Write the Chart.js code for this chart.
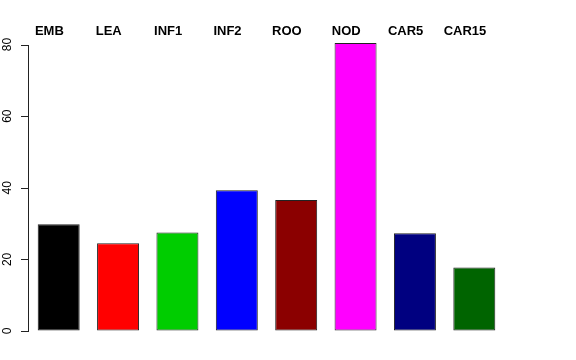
<!DOCTYPE html>
<html>
<head>
<meta charset="utf-8">
<script src="https://cdn.jsdelivr.net/npm/chart.js@4/dist/chart.umd.min.js"></script>
<style>
html,body{margin:0;padding:0;background:#fff;}
canvas{display:block;}
</style>
</head>
<body>
<canvas id="c" width="576" height="360"></canvas>
<script>
const categories = ["EMB", "LEA", "INF1", "INF2", "ROO", "NOD", "CAR5", "CAR15"];
const values = [29.8, 24.5, 27.5, 39.3, 36.6, 80.4, 27.3, 17.7];
const barColors = ["#000000", "#FF0000", "#00CD00", "#0000FF", "#8B0000", "#FF00FF", "#000080", "#006400"];
const yTicks = [0, 20, 40, 60, 80];

const topLabels = {
  id: 'topLabels',
  afterDraw(chart) {
    const ctx = chart.ctx;
    const xs = chart.scales.x;
    ctx.save();
    ctx.font = 'bold 13px "Liberation Sans", Arial, sans-serif';
    ctx.fillStyle = '#000';
    ctx.textAlign = 'center';
    ctx.textBaseline = 'alphabetic';
    categories.forEach((c, i) => {
      ctx.fillText(c, xs.getPixelForValue(i) - 9.3, 34.5);
    });
    ctx.restore();
    // axis line and tick marks
    const ys = chart.scales.y;
    const y0 = Math.round(ys.getPixelForValue(yTicks[0]));
    const y1 = Math.round(ys.getPixelForValue(yTicks[yTicks.length - 1]));
    ctx.save();
    ctx.fillStyle = '#222';
    ctx.fillRect(28, y1, 1, y0 - y1 + 1);
    for (let k = 0; k < yTicks.length; k++) {
      const y = Math.round(ys.getPixelForValue(yTicks[k]));
      ctx.fillRect(21, y, 8, 1);
    }
    ctx.restore();
  }
};

new Chart(document.getElementById('c'), {
  type: 'bar',
  data: {
    labels: categories,
    datasets: [{
      data: values,
      backgroundColor: barColors,
      borderColor: '#222',
      borderWidth: 1,
      borderSkipped: false,
      categoryPercentage: 1.0,
      barPercentage: 0.707,
      clip: false
    }]
  },
  options: {
    responsive: false,
    animation: false,
    devicePixelRatio: 1,
    layout: { padding: { left: 0, right: 72, top: 44.5, bottom: 29 } },
    plugins: { legend: { display: false }, tooltip: { enabled: false } },
    scales: {
      x: { display: false },
      y: {
        min: 0, max: 80,
        afterFit(scale) { scale.width = 29; },
        afterBuildTicks(scale) { scale.ticks = yTicks.map(v => ({ value: v })); },
        border: { display: false },
        grid: { display: true, drawOnChartArea: false, drawTicks: true, tickLength: 8, color: 'rgba(0,0,0,0)' },
        ticks: {
          minRotation: 90, maxRotation: 90,
          crossAlign: 'center',
          padding: 7,
          color: '#000',
          font: { family: '"Liberation Sans", Arial, sans-serif', size: 12 }
        }
      }
    }
  },
  plugins: [topLabels]
});
</script>
</body>
</html>
